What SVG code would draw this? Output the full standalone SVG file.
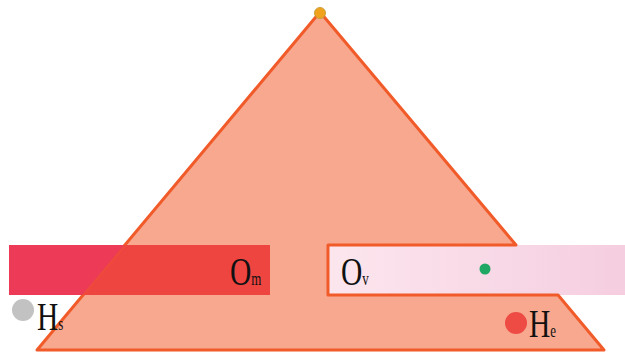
<svg xmlns="http://www.w3.org/2000/svg" width="625" height="353" viewBox="0 0 625 353">
<defs>
<linearGradient id="gv" x1="0" y1="0" x2="1" y2="0">
<stop offset="0" stop-color="#FCE6EE"/>
<stop offset="1" stop-color="#F5CEE0"/>
</linearGradient>
<clipPath id="tri"><polygon points="320,12 604,350 37,350"/></clipPath>
<style>
.lbl{font-family:"Liberation Serif","Times New Roman",serif;font-size:41px;fill:#111}
.sub{font-size:18px}
.edge{fill:none;stroke:#F15A29;stroke-width:3;stroke-linejoin:round}
</style>
</defs>
<rect width="625" height="353" fill="#fff"/>
<g id="barV">
<rect x="328" y="245" width="297" height="50" fill="url(#gv)"/>
</g>
<g id="pyramid">
<polygon points="320,12 516,245 328,245 328,295 558,295 604,350 37,350" fill="#F7A88F" stroke="#F15A29" stroke-width="3" stroke-linejoin="round"/>
</g>
<g id="barM">
<rect x="9" y="245" width="261" height="50" fill="#EC3A57"/>
<rect x="9" y="245" width="261" height="50" fill="#EF4541" clip-path="url(#tri)"/>
<line x1="125" y1="245" x2="83" y2="295" stroke="#F15A29" stroke-width="2" opacity="0.35"/>
</g>
<g id="apex"><circle cx="320" cy="13" r="5.5" fill="#F0A21C" stroke="#C9A03A" stroke-width="1"/></g>
<g id="dotV"><circle cx="485" cy="269" r="5.5" fill="#1FA863"/></g>
<g id="dotHs"><circle cx="23" cy="310" r="11" fill="#C2C2C2"/></g>
<g id="dotHe"><circle cx="516" cy="323" r="11" fill="#EE4B44"/></g>
<g id="labels">
<text class="lbl" transform="translate(230,285) scale(0.72,1)">O<tspan class="sub">m</tspan></text>
<text class="lbl" transform="translate(341,285) scale(0.72,1)">O<tspan class="sub">v</tspan></text>
<text class="lbl" transform="translate(37,330) scale(0.72,1)">H<tspan class="sub">s</tspan></text>
<text class="lbl" transform="translate(529,337) scale(0.72,1)">H<tspan class="sub">e</tspan></text>
</g>
</svg>
